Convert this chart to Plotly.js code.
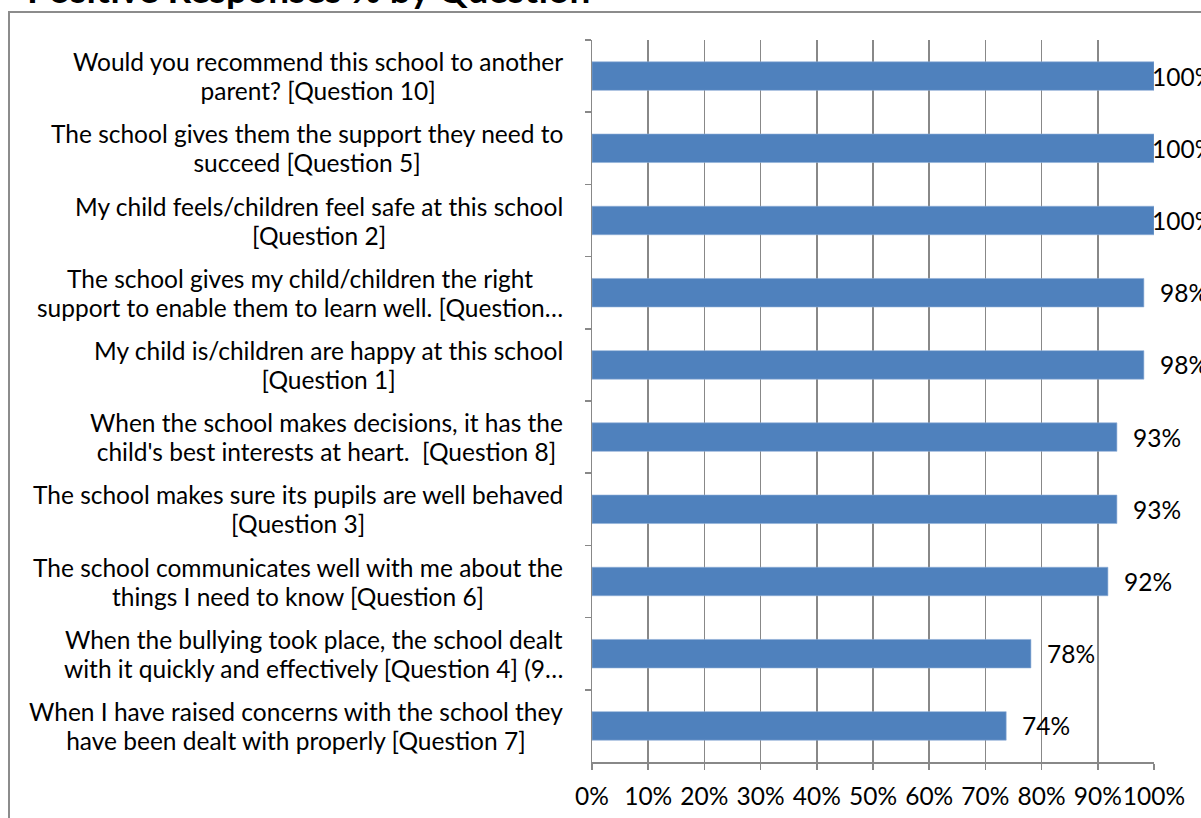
<!DOCTYPE html>
<html>
<head>
<meta charset="utf-8">
<script src="https://cdn.plot.ly/plotly-3.0.1.min.js"></script>
<style>
  html, body { margin: 0; padding: 0; background: #ffffff; overflow: hidden; }
  #frame { position: absolute; left: 8px; top: 11px; width: 1400px; height: 1000px;
           border-left: 2px solid #8c8c8c; border-top: 2px solid #8c8c8c; }
  #chart { position: absolute; left: 0; top: 0; width: 1201px; height: 818px; }
</style>
</head>
<body>
<div id="frame"></div>
<div id="chart"></div>
<script>
const titleText = "Positive Responses % by Question";

const categories = [
  "Would you recommend this school to another<br>parent? [Question 10]",
  "The school gives them the support they need to<br>succeed [Question 5]",
  "My child feels/children feel safe at this school<br>[Question 2]",
  "The school gives my child/children the right<br>support to enable them to learn well. [Question…",
  "My child is/children are happy at this school<br>[Question 1]",
  "When the school makes decisions, it has the<br>child's best interests at heart.  [Question 8]",
  "The school makes sure its pupils are well behaved<br>[Question 3]",
  "The school communicates well with me about the<br>things I need to know [Question 6]",
  "When the bullying took place, the school dealt<br>with it quickly and effectively [Question 4] (9…",
  "When I have raised concerns with the school they<br>have been dealt with properly [Question 7]"
];

const values = [100, 100, 100, 98.2, 98.2, 93.4, 93.4, 91.8, 78.1, 73.7];

const xTickVals = [0, 10, 20, 30, 40, 50, 60, 70, 80, 90, 100];
const xTickText = ["0%", "10%", "20%", "30%", "40%", "50%", "60%", "70%", "80%", "90%", "100%"];

const FONT = "Lato, 'Open Sans', sans-serif";
const FS = 24.5;
const BASE = 22.3; // sets line spacing (1.3em) to ~29px

const trace = {
  type: "bar",
  orientation: "h",
  x: values,
  y: categories,
  marker: { color: "#4F81BD", line: { color: "#8FAFD6", width: 0.6 } },
  hoverinfo: "x+y"
};

const annotations = [];
categories.forEach((c, i) => {
  const txt = c.split("<br>").map(s => '<span style="font-size:' + FS + 'px">' + s + '</span>').join("<br>");
  annotations.push({
    xref: "paper", yref: "y", x: 0, y: c,
    xanchor: "right", yanchor: "middle", align: "center",
    xshift: -27, showarrow: false, text: txt,
    font: { family: FONT, size: BASE, color: "#000000" }
  });
  annotations.push({
    xref: "x", yref: "y", x: values[i], y: c,
    xanchor: "left", yanchor: "middle", showarrow: false,
    xshift: values[i] >= 100 ? -4 : 14,
    text: Math.round(values[i]) + "%",
    font: { family: FONT, size: FS, color: "#000000" }
  });
});

annotations.push({
  xref: "paper", yref: "paper", x: 308 / 562 - 592 / 562, y: 1,
  xanchor: "center", yanchor: "middle", yshift: 52,
  showarrow: false, text: "<b>" + titleText + "</b>",
  font: { family: FONT, size: 37, color: "#000000" }
});

const layout = {
  width: 1201, height: 818,
  paper_bgcolor: "rgba(0,0,0,0)",
  plot_bgcolor: "rgba(0,0,0,0)",
  margin: { l: 592, r: 47, t: 40, b: 56 },
  showlegend: false,
  bargap: 0.605,
  xaxis: {
    range: [0, 100],
    tickvals: xTickVals, ticktext: xTickText,
    tickangle: 0,
    showgrid: true, gridcolor: "#888888", gridwidth: 1.5,
    showline: true, linecolor: "#888888", linewidth: 1.5,
    ticks: "outside", ticklen: 6, tickcolor: "#888888", tickwidth: 1.5,
    ticklabelstandoff: 6,
    zeroline: false,
    tickfont: { family: FONT, size: FS, color: "#000000" },
    fixedrange: true
  },
  yaxis: {
    type: "category",
    autorange: "reversed",
    showticklabels: false,
    showgrid: false, zeroline: false,
    showline: true, linecolor: "#888888", linewidth: 1.5,
    ticks: "outside", ticklen: 6, tickcolor: "#888888", tickwidth: 1.5,
    tickson: "boundaries",
    fixedrange: true
  },
  annotations: annotations
};

Plotly.newPlot("chart", [trace], layout, { displayModeBar: false, staticPlot: true });
</script>
</body>
</html>
